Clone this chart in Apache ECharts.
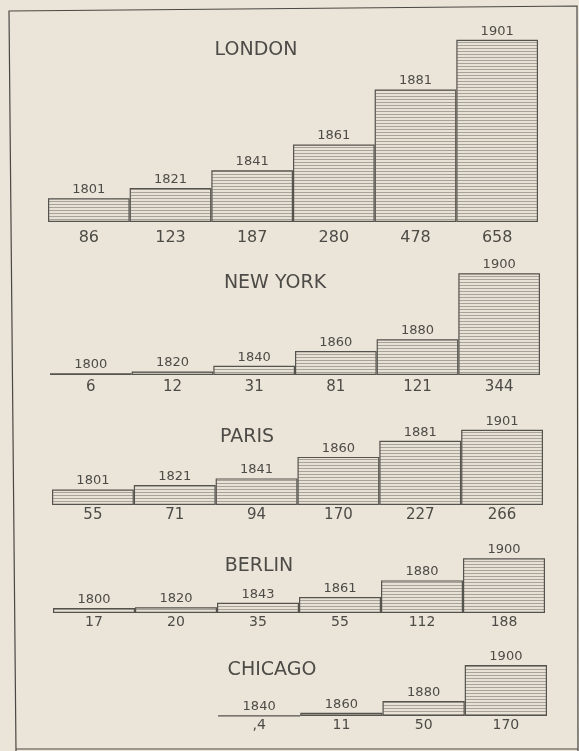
<!DOCTYPE html>
<html>
<head>
<meta charset="utf-8">
<script src="https://cdn.jsdelivr.net/npm/echarts@6/dist/echarts.min.js"></script>
<style>
  html, body { margin: 0; padding: 0; background: #ebe5d9; }
  #chart { width: 579px; height: 751px; }
</style>
</head>
<body>
<div id="chart"></div>
<script>
// Population of great cities, in tens of thousands
const cities = ['LONDON', 'NEW YORK', 'PARIS', 'BERLIN', 'CHICAGO'];

const londonYears = ['1801', '1821', '1841', '1861', '1881', '1901'];
const londonPop = [86, 123, 187, 280, 478, 658];

const newYorkYears = ['1800', '1820', '1840', '1860', '1880', '1900'];
const newYorkPop = [6, 12, 31, 81, 121, 344];

const parisYears = ['1801', '1821', '1841', '1860', '1881', '1901'];
const parisPop = [55, 71, 94, 170, 227, 266];

const berlinYears = ['1800', '1820', '1843', '1861', '1880', '1900'];
const berlinPop = [17, 20, 35, 55, 112, 188];

const chicagoYears = ['1840', '1860', '1880', '1900'];
const chicagoPop = [0.4, 11, 50, 170];

const yearSets = [londonYears, newYorkYears, parisYears, berlinYears, chicagoYears];
const popSets = [londonPop, newYorkPop, parisPop, berlinPop, chicagoPop];

// Panel geometry: baseline y, pixels per unit, left/right edges, title centre
const panels = [
  { base: 222, scale: 0.277, left: 48, right: 538, tx: 256, ty: 50, valMargin: 8, valSize: 16 },
  { base: 375, scale: 0.296, left: 50, right: 540, tx: 275, ty: 283, valMargin: 5, valSize: 15 },
  { base: 505, scale: 0.283, left: 52, right: 543, tx: 247, ty: 437, valMargin: 3, valSize: 15 },
  { base: 613, scale: 0.291, left: 53, right: 545, tx: 259, ty: 566, valMargin: 2, valSize: 14 },
  { base: 716, scale: 0.300, left: 218, right: 547, tx: 272, ty: 670, valMargin: 2, valSize: 14 }
];

const PAPER = '#ebe5d9';
const INK = '#4d4b47';
const FONT = '"DejaVu Sans", "Liberation Sans", sans-serif';

// Horizontal ruling used to fill the bars
function ruling() {
  const c = document.createElement('canvas');
  c.width = 8; c.height = 3;
  const g = c.getContext('2d');
  g.fillStyle = '#e8e2d6';
  g.fillRect(0, 0, 8, 3);
  g.fillStyle = '#a8a39a';
  g.fillRect(0, 0, 8, 1);
  return c;
}
const hatch = { image: ruling(), repeat: 'repeat' };

function popText(v) {
  return v < 1 ? ',' + String(v).split('.')[1] : String(v);
}

const grids = [], xAxes = [], yAxes = [], series = [], graphics = [];

panels.forEach((p, i) => {
  const pops = popSets[i];
  const years = yearSets[i];
  const maxV = Math.max.apply(null, pops);
  const h = maxV * p.scale;
  grids.push({ left: p.left, width: p.right - p.left, top: p.base - h, height: h });
  xAxes.push({
    type: 'category', gridIndex: i, data: years,
    axisLine: { show: false }, axisTick: { show: false },
    axisLabel: {
      margin: p.valMargin, color: INK, fontFamily: FONT, fontSize: p.valSize,
      formatter: (val, idx) => popText(pops[idx])
    }
  });
  yAxes.push({
    type: 'value', gridIndex: i, min: 0, max: maxV, show: false,
    splitLine: { show: false }
  });
  series.push({
    type: 'bar', xAxisIndex: i, yAxisIndex: i, data: pops,
    barCategoryGap: 0, barGap: 0,
    itemStyle: { color: hatch, borderColor: '#55534e', borderWidth: 1.2 },
    label: {
      show: true, position: 'top', distance: 2,
      color: INK, fontFamily: FONT, fontSize: 13,
      formatter: (prm) => years[prm.dataIndex]
    },
    silent: true, animation: false
  });
  graphics.push({
    type: 'text', x: p.tx, y: p.ty,
    style: {
      text: cities[i], fill: INK, font: '19px ' + FONT,
      align: 'center', verticalAlign: 'middle'
    }
  });
});

// Frame round the whole sheet
graphics.push({
  type: 'polyline',
  shape: { points: [[16, 751], [9, 11], [577, 6], [578, 751]] },
  style: { stroke: '#4a4844', lineWidth: 1.2, fill: null }
});
graphics.push({
  type: 'line',
  shape: { x1: 16, y1: 749, x2: 578, y2: 749 },
  style: { stroke: '#4a4844', lineWidth: 1 }
});

const chart = echarts.init(document.getElementById('chart'), null, { renderer: 'canvas' });
chart.setOption({
  backgroundColor: PAPER,
  animation: false,
  grid: grids,
  xAxis: xAxes,
  yAxis: yAxes,
  series: series,
  graphic: graphics
});
</script>
</body>
</html>
